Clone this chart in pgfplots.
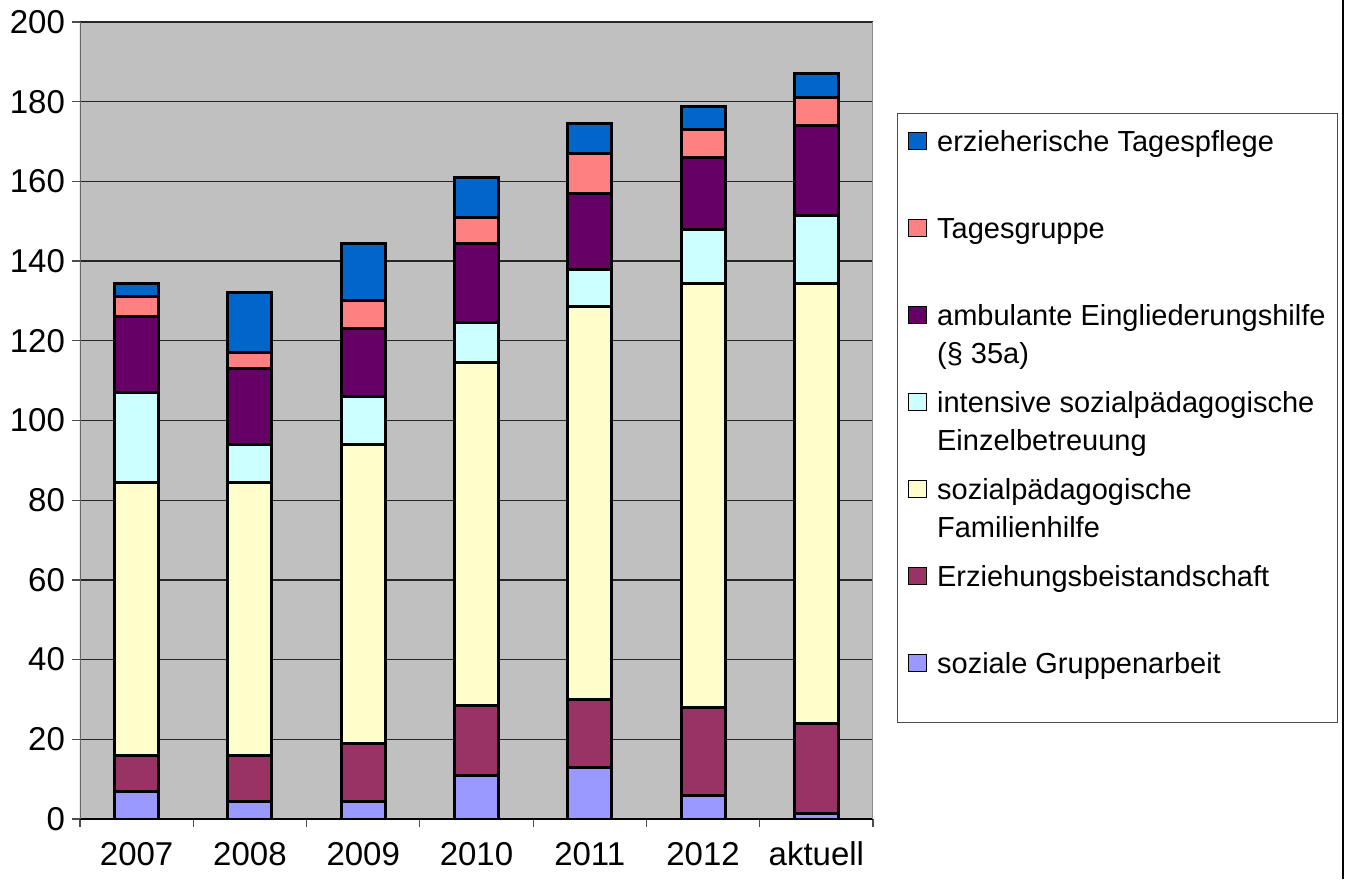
\documentclass[border=0pt]{standalone}
\usepackage{fontspec}
\setmainfont{Liberation Sans}
\usepackage{pgfplots}
\usepackage{pgfplotstable}
\pgfplotsset{compat=1.18}

\definecolor{cgrp}{HTML}{9999FF}
\definecolor{cerz}{HTML}{993366}
\definecolor{cspfh}{HTML}{FFFFCC}
\definecolor{cise}{HTML}{CCFFFF}
\definecolor{camb}{HTML}{660066}
\definecolor{ctg}{HTML}{FF8080}
\definecolor{cetp}{HTML}{0066CC}
\definecolor{plotbg}{HTML}{C0C0C0}

% x: 0=2007 ... 6=aktuell
\pgfplotstableread{
x grp  erz  spfh  ise  amb  tg   etp
0 7    9    68.5  22.5 19   5    3.5
1 4.5  11.5 68.5  9.5  19   4    15
2 4.5  14.5 75    12   17   7    14.5
3 11   17.5 86    10   20   6.5  10
4 13   17   98.5  9.5  19   10   7.5
5 6    22   106.5 13.5 18   7    5.7
6 1.5  22.5 110.5 17   22.5 7    6
}\data

\newcommand{\entry}[1]{\parbox[t][43.5pt][t]{195pt}{\raggedright\rule{0pt}{19pt}#1}}

\begin{document}
\begin{tikzpicture}
\useasboundingbox (-40pt,-30pt) rectangle (632.5pt,409.5pt);
\begin{axis}[
    at={(0pt,0pt)}, anchor=south west,
    scale only axis,
    width=396.5pt, height=398.5pt,
    ybar stacked,
    bar width=22pt,
    xmin=-0.5, xmax=6.5,
    ymin=0, ymax=200,
    xtick={0,...,6},
    xticklabels={2007,2008,2009,2010,2011,2012,aktuell},
    minor xtick={-0.5,0.5,...,6.5},
    ytick={0,20,...,200},
    tick align=outside,
    xtick pos=bottom, ytick pos=left,
    major x tick style={draw=none},
    major tick length=4pt, minor tick length=4pt,
    every tick/.style={black!70, line width=0.6pt},
    ymajorgrids,
    grid style={black!85, line width=0.6pt},
    axis line style={draw=none},
    axis background/.style={fill=plotbg},
    tick label style={font=\fontsize{16.5}{19}\selectfont},
    xticklabel style={yshift=-4pt},
    /pgf/number format/assume math mode=true,
    reverse legend,
    legend style={
        at={(1.0303,0.8858)}, anchor=north west,
        draw=black!70, fill=white, line width=0.6pt,
        inner xsep=5pt, inner ysep=0pt,
        row sep=0pt, column sep=5pt,
        cells={anchor=base west},
        nodes={inner sep=0pt, text depth={}},
        font=\fontsize{14.5}{19}\selectfont,
    },
    every axis plot post/.append style={
        legend image code/.code={\draw[##1, line width=0.75pt] (0pt,1pt) rectangle (9pt,9.5pt);}
    },
]
\addplot[fill=cgrp,  draw=black, line width=1.5pt] table[x=x, y=grp]  {\data};
\addplot[fill=cerz,  draw=black, line width=1.5pt] table[x=x, y=erz]  {\data};
\addplot[fill=cspfh, draw=black, line width=1.5pt] table[x=x, y=spfh] {\data};
\addplot[fill=cise,  draw=black, line width=1.5pt] table[x=x, y=ise]  {\data};
\addplot[fill=camb,  draw=black, line width=1.5pt] table[x=x, y=amb]  {\data};
\addplot[fill=ctg,   draw=black, line width=1.5pt] table[x=x, y=tg]   {\data};
\addplot[fill=cetp,  draw=black, line width=1.5pt] table[x=x, y=etp]  {\data};

\addlegendentry{\entry{soziale Gruppenarbeit}}
\addlegendentry{\entry{Erziehungsbeistandschaft}}
\addlegendentry{\entry{sozialpädagogische\\Familienhilfe}}
\addlegendentry{\entry{intensive sozialpädagogische\\Einzelbetreuung}}
\addlegendentry{\entry{ambulante Eingliederungshilfe\\(§ 35a)}}
\addlegendentry{\entry{Tagesgruppe}}
\addlegendentry{\entry{erzieherische Tagespflege}}

\draw[black!60, line width=1.2pt] (rel axis cs:0,0) -- (rel axis cs:0,1);
\draw[black!45, line width=1pt] (rel axis cs:1,0) -- (rel axis cs:1,1);
\draw[black, line width=0.9pt] (rel axis cs:0,0) -- (rel axis cs:1,0);
\end{axis}
\draw[black, line width=1pt] (631.5pt,-30pt) -- (631.5pt,409.5pt);
\end{tikzpicture}
\end{document}
